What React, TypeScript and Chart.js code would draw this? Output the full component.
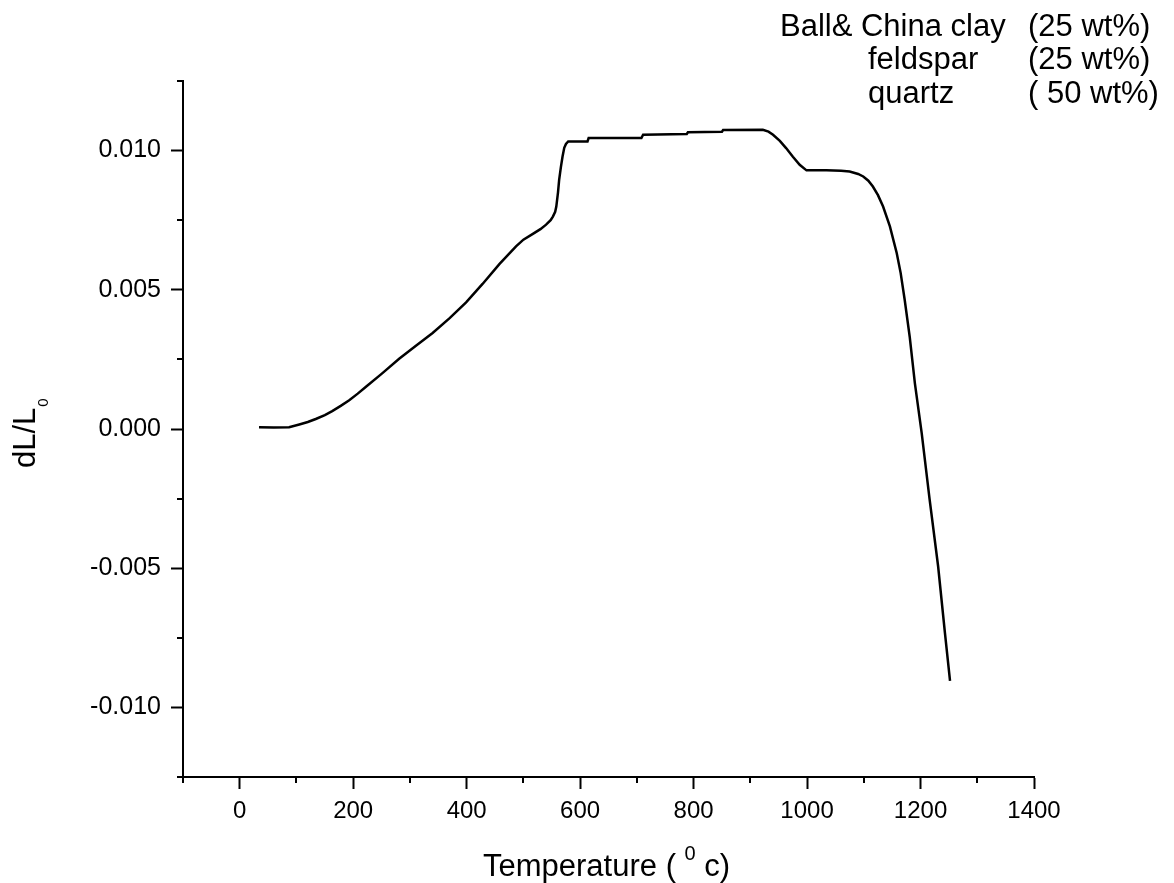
import React, { useEffect, useRef } from "react";
import { Chart, registerables } from "chart.js";

Chart.register(...registerables);

// ---- Data ----
const temperature: number[] = [
  34, 60, 87, 105, 120, 134, 150, 163, 178, 193, 208, 222, 250, 281, 310, 340,
  370, 399, 428, 458, 487, 500, 516, 530, 540, 548, 552, 556, 558, 561, 563,
  566, 569, 572, 575, 579, 613, 615, 708, 711, 788, 790, 850, 852, 922, 932,
  940, 952, 963, 975, 987, 999, 1034, 1060, 1075, 1090, 1099, 1108, 1116,
  1125, 1134, 1146, 1158, 1165, 1172, 1181, 1190, 1202, 1216, 1231, 1243, 1252,
];
const dLL0: number[] = [
  0.00006, 0.00005, 0.00006, 0.00016, 0.00025, 0.00036, 0.0005, 0.00064,
  0.00083, 0.00103, 0.00127, 0.00151, 0.00198, 0.00252, 0.00298, 0.00345,
  0.00398, 0.00455, 0.00521, 0.00593, 0.00656, 0.0068, 0.007, 0.00718,
  0.00734, 0.0075, 0.00763, 0.0078, 0.00799, 0.0085, 0.00895, 0.0094,
  0.00979, 0.0101, 0.01024, 0.01033, 0.01033, 0.01045, 0.01045, 0.01057,
  0.0106, 0.01066, 0.01068, 0.01074, 0.01075, 0.01068, 0.01057, 0.01035,
  0.01009, 0.00978, 0.00949, 0.00929, 0.00929, 0.00928, 0.00925, 0.00916,
  0.00907, 0.00892, 0.00871, 0.0084, 0.00799, 0.00728, 0.00632, 0.0056,
  0.00465, 0.0033, 0.00165, -0.00014, -0.00253, -0.00493, -0.00732, -0.00905,
];

const xMajorTicks: number[] = [0, 200, 400, 600, 800, 1000, 1200, 1400];
const xMinorTicks: number[] = [-100, 100, 300, 500, 700, 900, 1100, 1300];
const yMajorTicks: number[] = [-0.01, -0.005, 0, 0.005, 0.01];
const yMinorTicks: number[] = [-0.0125, -0.0075, -0.0025, 0.0025, 0.0075, 0.0125];

const xTitleMain = "Temperature (";
const xTitleSup = "0";
const xTitleEnd = "c)";
const yTitleMain = "dL/L";
const yTitleSub = "0";
const compositionNames: string[] = ["Ball& China clay", "feldspar", "quartz"];
const compositionAmounts: string[] = ["(25 wt%)", "(25 wt%)", "( 50 wt%)"];

const FONT = "'Liberation Sans', Arial, Helvetica, sans-serif";

const decorPlugin = {
  id: "decor",
  afterDraw(chart: any) {
    const ctx: CanvasRenderingContext2D = chart.ctx;
    const xs = chart.scales.x;
    const ys = chart.scales.y;
    ctx.save();
    ctx.strokeStyle = "#000";
    ctx.lineWidth = 2;
    // minor ticks
    xMinorTicks.forEach((v) => {
      const px = Math.round(xs.getPixelForValue(v));
      ctx.beginPath();
      ctx.moveTo(px, chart.chartArea.bottom);
      ctx.lineTo(px, chart.chartArea.bottom + 6);
      ctx.stroke();
    });
    yMinorTicks.forEach((v) => {
      const py = Math.round(ys.getPixelForValue(v));
      ctx.beginPath();
      ctx.moveTo(chart.chartArea.left, py);
      ctx.lineTo(chart.chartArea.left - 6, py);
      ctx.stroke();
    });

    ctx.fillStyle = "#000";
    ctx.textBaseline = "alphabetic";
    ctx.textAlign = "left";

    // x title with superscript
    ctx.font = `31px ${FONT}`;
    let x = 483;
    const xb = 876;
    ctx.fillText(xTitleMain, x, xb);
    x += ctx.measureText(xTitleMain + " ").width;
    ctx.font = `20px ${FONT}`;
    ctx.fillText(xTitleSup, x, xb - 16);
    x += ctx.measureText(xTitleSup).width;
    ctx.font = `31px ${FONT}`;
    x += ctx.measureText(" ").width;
    ctx.fillText(xTitleEnd, x, xb);

    // y title with subscript (rotated)
    ctx.save();
    ctx.translate(35, 468);
    ctx.rotate(-Math.PI / 2);
    ctx.font = `31px ${FONT}`;
    ctx.fillText(yTitleMain, 0, 0);
    const w = ctx.measureText(yTitleMain).width;
    ctx.font = `15px ${FONT}`;
    ctx.fillText(yTitleSub, w + 1, 13);
    ctx.restore();

    // composition annotation
    ctx.font = `31px ${FONT}`;
    const baselines = [36, 69, 103];
    const nameX = [780, 868, 868];
    compositionNames.forEach((n, i) => {
      ctx.fillText(n, nameX[i], baselines[i]);
      ctx.fillText(compositionAmounts[i], 1028, baselines[i]);
    });
    ctx.restore();
  },
};

export default function App() {
  const ref = useRef<HTMLCanvasElement | null>(null);
  useEffect(() => {
    if (!ref.current) return;
    const chart = new Chart(ref.current, {
      type: "line",
      data: {
        datasets: [
          {
            data: temperature.map((t, i) => ({ x: t, y: dLL0[i] })),
            borderColor: "#000",
            borderWidth: 2.5,
            pointRadius: 0,
            tension: 0,
            fill: false,
          },
        ],
      },
      options: {
        animation: false,
        responsive: false,
        layout: { padding: { left: 0, right: 140, top: 81, bottom: 0 } },
        plugins: { legend: { display: false }, tooltip: { enabled: false } },
        scales: {
          x: {
            type: "linear",
            min: -100,
            max: 1400,
            afterBuildTicks: (s: any) => {
              s.ticks = xMajorTicks.map((v) => ({ value: v }));
            },
            afterFit: (s: any) => {
              s.height = 106;
            },
            grid: {
              drawOnChartArea: false,
              drawTicks: true,
              tickLength: 12,
              tickWidth: 2,
              color: "#000",
            },
            border: { display: true, color: "#000", width: 2 },
            ticks: {
              color: "#000",
              padding: 8,
              maxRotation: 0,
              autoSkip: false,
              font: { family: FONT, size: 24 },
              callback: (v: any) => String(v),
            },
          },
          y: {
            type: "linear",
            min: -0.0125,
            max: 0.0125,
            afterBuildTicks: (s: any) => {
              s.ticks = yMajorTicks.map((v) => ({ value: v }));
            },
            afterFit: (s: any) => {
              s.width = 183;
            },
            grid: {
              drawOnChartArea: false,
              drawTicks: true,
              tickLength: 12,
              tickWidth: 2,
              color: "#000",
            },
            border: { display: true, color: "#000", width: 2 },
            ticks: {
              color: "#000",
              padding: 10,
              autoSkip: false,
              font: { family: FONT, size: 25 },
              callback: (v: any) => Number(v).toFixed(3),
            },
          },
        },
      },
      plugins: [decorPlugin],
    });
    return () => chart.destroy();
  }, []);
  return (
    <div style={{ position: "absolute", left: 0, top: 0, width: 1174, height: 883, background: "#fff" }}>
      <canvas ref={ref} width={1174} height={883} />
    </div>
  );
}
